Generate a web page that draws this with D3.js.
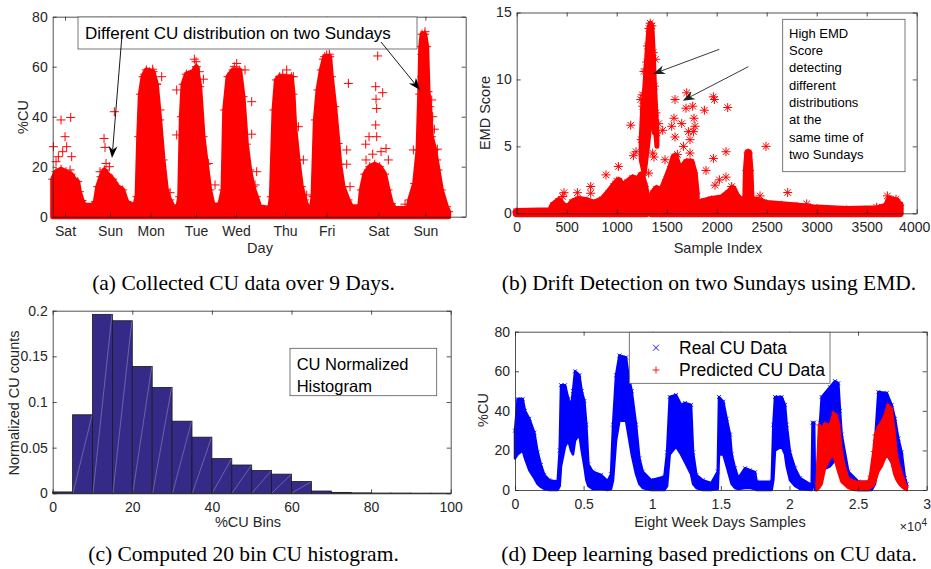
<!DOCTYPE html>
<html><head><meta charset="utf-8">
<script src="https://cdn.jsdelivr.net/npm/d3@7"></script>
<style>body{margin:0;background:#fff}svg{display:block}</style>
</head><body>
<svg id="c" width="931" height="569"></svg>
<script>
// ---------- (a) CU over 9 days ----------
const aDayTicks = [37,172,294,430,550,697,822,977,1118];
const aDayLabels = ["Sat","Sun","Mon","Tue","Wed","Thu","Fri","Sat","Sun"];
const aYTicks = [0,20,40,60,80];
// dense cloud upper envelope [t, %CU]
const aCloud = [
[0,15],[10,18],[25,19],[40,18],[55,17],[65,15],[75,14],[80,10],[88,6.5],[95,4.7],[120,4.5],[128,6],[135,12],[145,16],[155,18.7],[165,17],[180,15],[195,12],[210,10.7],[222,6],[235,4.5],[248,5.3],
[253,8],[258,32],[263,49],[271,56],[281,58.7],[301,58],[311,53],[321,38.7],[331,22.7],[341,10.7],[351,6.7],[361,4],[376,4],
[381,8],[386,40],[391,53],[401,57],[421,58],[431,60],[441,52],[451,32],[461,21],[471,10.7],[481,4.7],[501,4.7],
[511,10.7],[516,42.7],[526,56],[541,58.7],[561,58.7],[571,48],[581,29],[591,18.7],[601,12],[611,8],[621,4],[651,3.3],
[656,8],[664,42.7],[671,54.7],[681,56],[716,56],[721,49],[726,36],[736,22.7],[746,12],[756,6.7],[766,3.3],[776,3.3],
[781,8],[788,38.7],[796,50.7],[806,58.7],[816,64],[831,64],[836,56],[846,44],[856,29.3],[861,21],[871,12],[886,6.7],[896,4],[921,4],
[926,10.7],[936,17],[951,20],[966,21],[981,20],[996,17],[1006,10.7],[1016,5.3],[1026,3.3],[1066,3.3],
[1071,6.7],[1086,13.3],[1096,26.7],[1101,49],[1104,68],[1108,73],[1116,73],[1122,68],[1126,50],[1131,44],[1136,32],[1146,26.7],[1156,18.7],[1166,10.7],[1181,4],[1188,2]
];
// sparse points [t, %CU]
const aPoints = [
[25,38.7],[54,39.7],[37,32],[42,28],[2,28],[57,24],[52,18.7],[17,24],[30,26],[10,22],
[185,42],[154,31.3],[157,27.7],[160,21.3],[142,18],[200,10],[170,20],
[327,56],[322,42.7],[352,9.6],[312,53],[290,58],[300,59],[276,57],
[372,50.7],[430,62],[372,32.7],[467,21.3],[487,12.7],[452,55],[425,63],[440,58],
[552,61.3],[577,58.7],[597,46],[597,33],[612,18],[607,12.7],[545,60],
[702,58.7],[722,56],[677,55],[737,36],[762,8.7],[752,22.7],[690,57],
[887,53.3],[882,26.7],[882,21],[822,64.7],[892,12],[830,65],[812,63],
[975,64.3],[969,52],[990,49.6],[970,47],[972,43.3],[969,36.7],[949,32],[972,32],[939,29],[1000,27.3],[1007,22.7],[940,22.7],[947,18.7],[985,26],[960,25],
[1117,74],[1112,70.7],[1107,65],[1110,61.3],[1107,56],[1137,46.7],[1154,27],[1152,22.7],[1082,26.7],[1057,5],[1097,14],[1140,40],[1145,35]
];

// ---------- (b) EMD score ----------
const bXTicks = [0,500,1000,1500,2000,2500,3000,3500,4000];
const bYTicks = [0,5,10,15];
// dense clouds [sample, low, high]
const bCloudLeft = [[0,0,0.1],[340,0,0.15],[370,0,0.6],[420,0,0.9],[470,0,0.5],[520,0,0.4],[560,0,0.8],[620,0,1.0],[700,0,0.9],[780,0,0.7],[860,0,1.0],[920,0,1.5],[970,0,2.0],[1020,0,2.4],[1060,0,1.9],[1110,0,2.3],[1160,0,2.6],[1210,0,2.4],[1245,0,2.8],[1275,0,2.0],[1295,0,1.2]];
const bSpike = [[1245,4,5.5],[1260,3.5,8],[1275,3,8.8],[1292,4,10.6],[1308,5,12.5],[1322,6,13.8],[1335,7,14.2],[1352,7,14],[1365,7,12],[1378,6,9.5],[1392,6,7.5],[1402,5,6]];
const bCloudMid = [[1350,0,0.5],[1370,0,1.5],[1400,0,1.8],[1450,0,1.6],[1500,0,2.5],[1550,0,3.5],[1580,0,4.2],[1610,0,3.5],[1640,0,2.2],[1660,0,3.4],[1700,0,3.8],[1740,0,3.8],[1770,0,3.0],[1790,0,1.5]];
const bCloudRight = [[1805,0,0.5],[1850,0,0.8],[1950,0,1.0],[2050,0,1.1],[2120,0,1.5],[2160,0,1.8],[2200,0,1.2],[2250,0,0.9],[2295,0,0.8],[2302,0,3.2],[2315,0,4.5],[2328,0,3.2],[2338,0,1.0],[2420,0,0.9],[2500,0,0.7],[2650,0,0.6],[2800,0,0.5],[3000,0,0.35],[3300,0,0.25],[3600,0,0.3],[3700,0,0.5],[3730,0,1.0],[3790,0,0.9],[3830,0,0.6]];
const bPoints = [
[473,1.54],[460,1.25],[607,1.54],[740,2.0],[740,1.5],[893,2.87],[1017,3.5],[1000,2.4],
[1140,6.58],[1167,4.3],[1193,4.6],[1257,8.85],[1240,8.5],[1273,10.6],[1300,11.3],[1360,8.8],[1387,11.5],[1350,8.2],[1360,4.5],[1320,3.0],[1373,4.2],[1420,6.7],
[1460,6.2],[1483,4.0],[1550,6.5],[1583,8.5],[1573,7.1],[1583,5.7],[1607,4.4],[1667,5.0],[1700,9.0],[1693,7.85],[1717,6.1],[1733,5.5],[1760,8.0],[1773,7.1],[1767,6.1],[1783,6.5],[1733,4.5],[1650,6.7],
[1877,7.7],[1893,3.2],[1967,8.7],[1977,8.5],[1967,4.1],[2093,4.6],[2110,7.9],[2093,2.7],[2027,2.5],[1983,2.1],
[2493,5.0],[2433,1.3],[2710,1.55],[2900,0.7],[3707,1.3],[3793,1.05],[3600,0.45],[2150,2.0]
];

// ---------- (c) histogram ----------
const cBinStart = [0,5,10,15,20,25,30,35,40,45,50,55,60,65,70,75,80,85,90,95];
const cCounts = [0.0015,0.086,0.196,0.189,0.139,0.116,0.079,0.0615,0.038,0.031,0.025,0.021,0.013,0.0025,0.001,0.0005,0.0003,0.0003,0.0002,0.0002];
const cXTicks = [0,20,40,60,80,100];
const cYTicks = [0,0.05,0.1,0.15,0.2];

// ---------- (d) real vs predicted ----------
const dXTicks = [0,5000,10000,15000,20000,25000,30000];
const dYTicks = [0,20,40,60,80];
// [sample, low, high]
const dReal = [
[0,16,30],[194,18,46],[559,20,46],[729,16,40],[1045,10,36],[1409,6,29],[1652,3,19],[1895,1.5,12.6],[2138,0.5,7.6],[2503,0,5],[3110,0,4.2],
[3256,2,20],[3353,12,53],[3645,22,53],[3888,25,46],[4082,20,42],[4228,18,50],[4374,25,60],[4690,28,58],[4860,20,50],[5054,12,45],[5200,5,33],[5346,2,13],[5662,0.5,9.3],[6269,0.5,7.6],[6755,0,4.5],
[6998,0.5,8],[7144,5,33],[7363,25,58],[7606,35,68],[8092,35,67],[8262,28,58],[8505,18,50],[8821,8,33],[9064,3,16],[9307,1,9.3],[9914,0,5],[10886,0,6.7],
[11081,2,19],[11275,18,47],[11737,22,48],[12101,18,43],[12393,14,44],[12830,8,43],[12976,3,19],[13219,1,7.6],[13681,0,5],[14288,0,3.4],
[14774,0.5,9.3],[14866,18,47],[15181,18,44.6],[15424,12,36],[15667,6,28],[15789,3,18],[16031,1,11],[16274,0.5,6],[16760,1,11],[17124,1,10],[17489,0.5,9],[17610,0,4.2],[18703,0,4.2],
[18825,5,33],[18946,20,47],[19432,22,47],[19675,18,43],[19797,12,33],[20040,5,19],[20404,2,11],[20768,0.5,6],[21618,0,2.5],
[21680,2,34],[21800,2,34],[21861,0,3],[21982,0,3],
[22225,5,34],[22347,10,47],[22954,12,52],[23318,15,55],[23561,12,54],[23683,8,40],[23804,5,28],[24290,2,9.3],[25019,0,4.2],[25990,0,4.2],
[26233,3,24],[26476,15,49.5],[27084,18,49],[27448,14,43],[27691,8,36],[27934,4,26],[28176,2,19],[28419,0.5,6],[28541,0,3]
];
const dPred = [
[21982,0,3.4],[22152,1,32.8],[22347,3,31],[22590,11,33.6],[22954,16,32.8],[23197,17.7,39],[23440,12,37.5],[23610,8,32.8],[23804,4,19.4],[24047,2.5,11],[24290,1,5.9],[24776,0,4.2],[25747,0,4.2],
[25869,1,7],[26112,2,19.4],[26233,4,27.8],[26476,9.3,32],[26719,12,34.5],[26962,16,38],[27157,17.7,43],[27448,14,41],[27642,8,30],[27813,5,17.7],[28055,2.5,11],[28298,1,5.9],[28541,0,1.5]
];
const dLegend = ["Real CU Data","Predicted CU Data"];

const captions = ["(a) Collected CU data over 9 Days.","(b) Drift Detection on two Sundays using EMD.","(c) Computed 20 bin CU histogram.","(d) Deep learning based predictions on CU data."];

// ================= drawing =================
const svg = d3.select("#c");
const AX = "#262626";
const SANS = "'Liberation Sans', Arial, Helvetica, sans-serif";
const SERIF = "'Liberation Serif', 'Times New Roman', serif";
const RED = "#ff0000", BLUE = "#0000ff";

const plusP = r => `M${-r},0H${r}M0,${-r}V${r}`;
const xP = r => `M${-r},${-r}L${r},${r}M${-r},${r}L${r},${-r}`;
const starP = r => { const k = r*0.72; return plusP(r)+`M${-k},${-k}L${k},${k}M${-k},${k}L${k},${-k}`; };

function makeAxes(cfg){
  const x = d3.scaleLinear().domain(cfg.xd).range([cfg.l, cfg.r]);
  const y = d3.scaleLinear().domain(cfg.yd).range([cfg.b, cfg.t]);
  const data = svg.append("g");
  const top = svg.append("g");
  cfg.drawAxes = () => {
    const gb = top.append("g").attr("transform",`translate(0,${cfg.b})`)
      .call(d3.axisBottom(x).tickValues(cfg.xt).tickFormat(cfg.xf).tickSizeInner(-4).tickSizeOuter(0).tickPadding(9));
    const gt = top.append("g").attr("transform",`translate(0,${cfg.t})`)
      .call(d3.axisTop(x).tickValues(cfg.xt).tickFormat("").tickSizeInner(-4).tickSizeOuter(0));
    const gl = top.append("g").attr("transform",`translate(${cfg.l},0)`)
      .call(d3.axisLeft(y).tickValues(cfg.yt).tickFormat(cfg.yf).tickSizeInner(-4).tickSizeOuter(0).tickPadding(5));
    const gr = top.append("g").attr("transform",`translate(${cfg.r},0)`)
      .call(d3.axisRight(y).tickValues(cfg.yt).tickFormat("").tickSizeInner(-4).tickSizeOuter(0));
    [gb,gt,gl,gr].forEach(g=>{
      g.selectAll("path.domain").attr("stroke",AX).attr("stroke-width",0.8);
      g.selectAll(".tick line").attr("stroke",AX).attr("stroke-width",0.8);
      g.selectAll("text").attr("fill",AX).style("font-family",SANS).style("font-size","14px");
    });
    if (cfg.lastDx) gb.selectAll(".tick text").filter((d,i,n)=>i===n.length-1).attr("dx",cfg.lastDx);
    top.append("text").attr("x",cfg.xlx).attr("y",cfg.xly).attr("text-anchor","middle")
      .attr("fill",AX).style("font-family",SANS).style("font-size","14.5px").text(cfg.xl);
    top.append("text").attr("transform",`translate(${cfg.ylx},${cfg.yly}) rotate(-90)`).attr("dy","0.35em")
      .attr("text-anchor","middle").attr("fill",AX).style("font-family",SANS).style("font-size","14.5px").text(cfg.yl);
  };
  return {x,y,data,top,cfg};
}

function arrow(g,x1,y1,x2,y2,col){
  const L = Math.hypot(x2-x1,y2-y1), dx=(x2-x1)/L, dy=(y2-y1)/L, nx=-dy, ny=dx;
  const hl=12, hw=4.5;
  const bx = x2-dx*hl*0.7, by = y2-dy*hl*0.7;
  g.append("line").attr("x1",x1).attr("y1",y1).attr("x2",bx).attr("y2",by).attr("stroke",col).attr("stroke-width",0.9);
  g.append("path").attr("d",`M${x2},${y2}L${x2-dx*hl+nx*hw},${y2-dy*hl+ny*hw}L${bx},${by}L${x2-dx*hl-nx*hw},${y2-dy*hl-ny*hw}Z`).attr("fill",col);
}

function textBox(g,x0,y0,x1,y1){
  g.append("rect").attr("x",x0).attr("y",y0).attr("width",x1-x0).attr("height",y1-y0)
    .attr("fill","#fff").attr("stroke","#555").attr("stroke-width",0.8);
}

// ----- panel (a)
{
  const P = makeAxes({l:52.7,r:465.7,t:16.7,b:216.7,xd:[0,1239],yd:[0,80],xt:aDayTicks,xf:(d,i)=>aDayLabels[i],yt:aYTicks,yf:d3.format("d"),
    xl:"Day",xlx:260,xly:253,yl:"%CU",ylx:23,yly:117});
  const {x,y,data,top} = P;
  const area = d3.area().x(d=>x(d[0])).y0(y(0)).y1(d=>y(d[1]));
  data.append("path").datum(aCloud).attr("d",area).attr("fill",RED).attr("stroke",RED).attr("stroke-width",5).attr("stroke-linejoin","round");
  data.selectAll("path.m").data(aCloud).join("path").attr("class","m").attr("d",plusP(4.5))
    .attr("transform",d=>`translate(${x(d[0])},${y(d[1])})`).attr("stroke",RED).attr("stroke-width",1).attr("fill","none");
  data.selectAll("path.o").data(aPoints).join("path").attr("class","o").attr("d",plusP(4.5))
    .attr("transform",d=>`translate(${x(d[0])},${y(d[1])})`).attr("stroke",RED).attr("stroke-width",1).attr("fill","none");
  P.cfg.drawAxes();
  textBox(top,78,17,417,49);
  top.append("text").attr("x",85).attr("y",38.5).attr("fill","#000").style("font-family",SANS).style("font-size","17px").text("Different CU distribution on two Sundays");
  arrow(top,122,35,112,158,"#000");
  arrow(top,381,42,420,90,"#000");
}

// ----- panel (b)
{
  const P = makeAxes({l:516.7,r:916.7,t:12.5,b:213.3,xd:[0,4000],yd:[0,15],xt:bXTicks,xf:d3.format("d"),yt:bYTicks,yf:d3.format("d"),
    xl:"Sample Index",xlx:718,xly:253,yl:"EMD Score",ylx:485,yly:113,lastDx:-2.5});
  const {x,y,data,top} = P;
  const area = d3.area().x(d=>x(d[0])).y0(d=>y(d[1])).y1(d=>y(d[2]));
  [bCloudLeft,bSpike,bCloudMid,bCloudRight].forEach((seg,k)=>{
    data.append("path").datum(seg).attr("d",area).attr("fill",RED).attr("stroke",RED).attr("stroke-width",k===1?5:8).attr("stroke-linejoin","round");
    data.append("g").selectAll("path").data(seg).join("path").attr("d",starP(4.5))
      .attr("transform",d=>`translate(${x(d[0])},${y(d[2])})`).attr("stroke",RED).attr("stroke-width",1).attr("fill","none");
  });
  data.append("g").selectAll("path").data(bPoints).join("path").attr("d",starP(4.5))
    .attr("transform",d=>`translate(${x(d[0])},${y(d[1])})`).attr("stroke",RED).attr("stroke-width",1).attr("fill","none");
  P.cfg.drawAxes();
  textBox(top,782.7,19.3,905,171.7);
  ["High EMD","Score","detecting","different","distributions","at the","same time of","two Sundays"].forEach((s,i)=>{
    top.append("text").attr("x",789).attr("y",37.8+i*17.33).attr("fill","#000").style("font-family",SANS).style("font-size","13px").text(s);
  });
  arrow(top,719.3,49.3,653,74,"#222");
  arrow(top,748.3,66.7,682.7,100.7,"#222");
}

// ----- panel (c)
{
  const P = makeAxes({l:52.7,r:450.7,t:310.7,b:493.3,xd:[0,100],yd:[0,0.2],xt:cXTicks,xf:d3.format("d"),yt:cYTicks,yf:d=>d===0?"0":String(+d.toFixed(2)),
    xl:"%CU Bins",xlx:248,xly:527,yl:"Normalized CU counts",ylx:13.5,yly:403});
  const {x,y,data,top} = P;
  data.selectAll("rect").data(cBinStart).join("rect")
    .attr("x",d=>x(d)).attr("width",d=>x(d+5)-x(d))
    .attr("y",(d,i)=>y(cCounts[i])).attr("height",(d,i)=>y(0)-y(cCounts[i]))
    .attr("fill","#352a87").attr("stroke","#1a1a1a").attr("stroke-width",0.8);
  data.selectAll("line.diag").data(cBinStart.filter((d,i)=>cCounts[i]>0.005)).join("line").attr("class","diag")
    .attr("x1",d=>x(d)+0.5).attr("y1",y(0)-0.5).attr("x2",d=>x(d+5)-0.5).attr("y2",d=>y(cCounts[cBinStart.indexOf(d)])+0.5)
    .attr("stroke","#ffffff").attr("stroke-opacity",0.45).attr("stroke-width",0.6);
  P.cfg.drawAxes();
  textBox(top,290,348.3,436.7,395.7);
  top.append("text").attr("x",296.7).attr("y",370).attr("fill","#000").style("font-family",SANS).style("font-size","16.5px").text("CU Normalized");
  top.append("text").attr("x",296.7).attr("y",391.7).attr("fill","#000").style("font-family",SANS).style("font-size","16.5px").text("Histogram");
}

// ----- panel (d)
{
  const P = makeAxes({l:515,r:926.7,t:331.7,b:490,xd:[0,30000],yd:[0,80],xt:dXTicks,xf:d=>String(d/1e4),yt:dYTicks,yf:d3.format("d"),
    xl:"Eight Week Days Samples",xlx:720,xly:527,yl:"%CU",ylx:483,yly:410});
  const {x,y,data,top} = P;
  const area = d3.area().x(d=>x(d[0])).y0(d=>y(d[1])).y1(d=>y(d[2]));
  data.append("path").datum(dReal).attr("d",area).attr("fill",BLUE).attr("stroke",BLUE).attr("stroke-width",2.5).attr("stroke-linejoin","round");
  data.append("g").selectAll("path").data(dReal).join("path").attr("d",xP(2))
    .attr("transform",d=>`translate(${x(d[0])},${y(d[2])})`).attr("stroke",BLUE).attr("stroke-width",0.8).attr("fill","none");
  data.append("path").datum(dPred).attr("d",area).attr("fill",RED).attr("stroke",RED).attr("stroke-width",2.5).attr("stroke-linejoin","round");
  data.append("g").selectAll("path").data(dPred).join("path").attr("d",plusP(2.5))
    .attr("transform",d=>`translate(${x(d[0])},${y(d[2])})`).attr("stroke",RED).attr("stroke-width",0.9).attr("fill","none");
  P.cfg.drawAxes();
  textBox(top,629.3,332.3,830,383.3);
  top.append("path").attr("d",xP(3)).attr("transform","translate(656,347.7)").attr("stroke",BLUE).attr("stroke-width",0.9).attr("fill","none");
  top.append("path").attr("d",plusP(3.5)).attr("transform","translate(656,370)").attr("stroke",RED).attr("stroke-width",0.9).attr("fill","none");
  dLegend.forEach((s,i)=>{
    top.append("text").attr("x",679).attr("y",353.8+i*22.3).attr("fill","#000").style("font-family",SANS).style("font-size","17.5px").text(s);
  });
  const ex = top.append("text").attr("x",927).attr("y",531).attr("text-anchor","end").attr("fill",AX).style("font-family",SANS).style("font-size","13px");
  ex.append("tspan").text("\u00d710");
  ex.append("tspan").attr("dy","-5").style("font-size","10px").text("4");
}

// ----- captions
[[243.5,290],[709,290],[243.5,561],[709,561]].forEach((p,i)=>{
  svg.append("text").attr("x",p[0]).attr("y",p[1]).attr("text-anchor","middle").attr("fill","#000")
    .style("font-family",SERIF).style("font-size","21.5px").text(captions[i]);
});
</script>
</body></html>
